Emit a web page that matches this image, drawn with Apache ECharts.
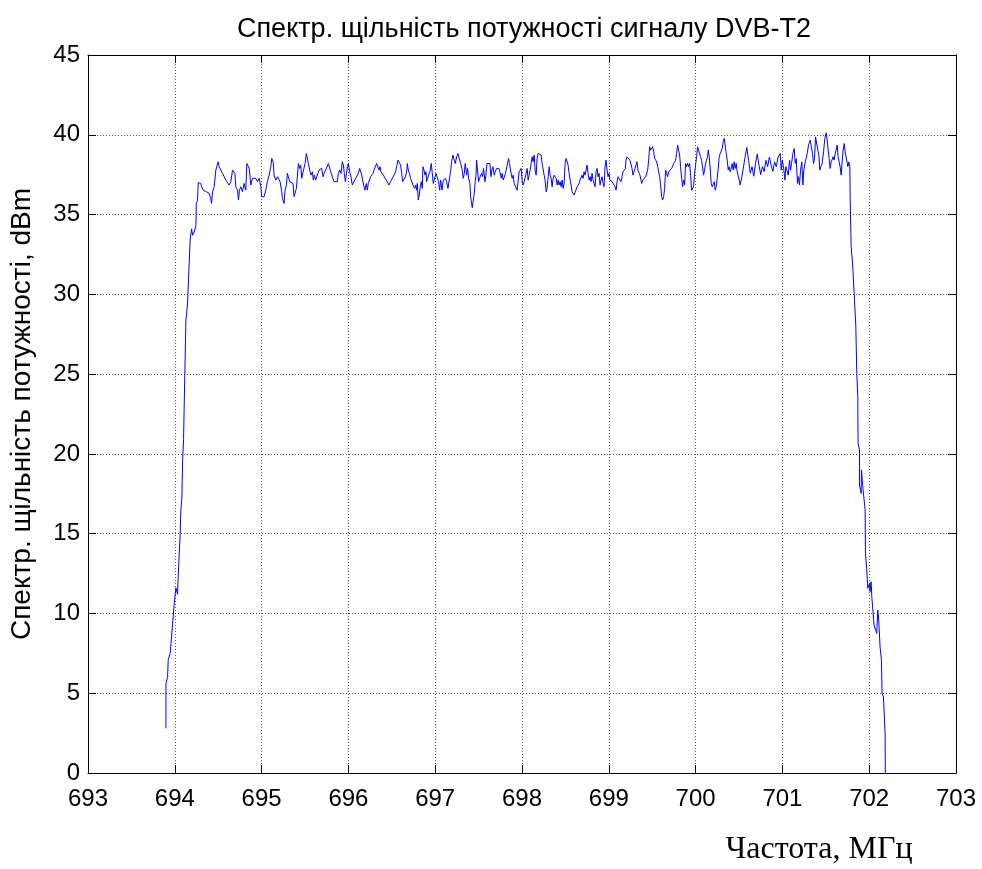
<!DOCTYPE html>
<html>
<head>
<meta charset="utf-8">
<script src="https://cdn.jsdelivr.net/npm/echarts@6/dist/echarts.min.js"></script>
<style>
  html, body { margin: 0; padding: 0; background: #fff; }
  #chart { width: 982px; height: 869px; }
</style>
</head>
<body>
<div id="chart"></div>
<script>
// Measured power spectral density of a DVB-T2 channel, [MHz, dBm]
const riseEdge = [
  [693.898, 2.8], [693.898, 5.6], [693.917, 6.0], [693.924, 7.1], [693.944, 7.0],
  [693.947, 7.5], [693.967, 7.5], [693.993, 10.6], [694.013, 11.6], [694.032, 11.2],
  [694.039, 12.3], [694.062, 15.0], [694.070, 16.5], [694.082, 17.3], [694.090, 19.6],
  [694.101, 20.9], [694.108, 23.0], [694.128, 28.4], [694.147, 29.4], [694.159, 31.1],
  [694.177, 33.4], [694.193, 34.1], [694.205, 33.7], [694.223, 33.9], [694.243, 34.3],
  [694.248, 35.7], [694.262, 35.9], [694.270, 37.0], [694.285, 37.0], [694.300, 36.95]
];

const passBand = [
  [694.308, 36.74], [694.331, 36.50], [694.358, 36.45], [694.377, 36.53], [694.396, 36.33],
  [694.415, 36.00], [694.423, 35.70], [694.435, 36.43], [694.454, 36.74], [694.473, 37.79],
  [694.492, 37.79], [694.500, 38.31], [694.511, 38.00], [694.530, 37.89], [694.550, 37.58],
  [694.569, 37.37], [694.588, 37.16], [694.607, 37.06], [694.626, 36.85], [694.646, 37.06],
  [694.665, 37.79], [694.676, 37.89], [694.692, 37.58], [694.703, 36.74], [694.722, 36.53],
  [694.734, 35.91], [694.745, 36.53], [694.761, 36.74], [694.780, 36.43], [694.799, 36.95],
  [694.818, 36.53], [694.830, 38.20], [694.845, 38.10], [694.857, 37.89], [694.876, 36.85],
  [694.895, 37.27], [694.914, 37.37], [694.933, 37.27], [694.952, 37.06], [694.972, 37.27],
  [694.991, 36.74], [695.002, 36.12], [695.029, 36.12], [695.048, 36.53], [695.067, 37.06],
  [695.087, 37.47], [695.106, 38.00], [695.117, 38.52], [695.133, 38.31], [695.144, 37.47],
  [695.163, 37.16], [695.183, 37.37], [695.202, 37.47], [695.213, 37.06], [695.221, 36.95],
  [695.232, 36.43], [695.240, 36.01], [695.251, 35.91], [695.259, 35.70], [695.270, 36.53],
  [695.286, 36.85], [695.297, 37.58], [695.309, 37.47], [695.324, 37.06], [695.336, 37.16],
  [695.347, 36.95], [695.362, 36.95], [695.374, 36.12], [695.385, 36.22], [695.401, 36.64],
  [695.412, 36.74], [695.424, 38.20], [695.439, 37.89], [695.451, 38.10], [695.462, 37.27],
  [695.478, 37.68], [695.501, 38.20], [695.516, 38.83], [695.531, 38.83], [695.539, 38.20],
  [695.554, 37.79], [695.570, 37.47], [695.585, 37.68], [695.596, 37.16], [695.608, 37.47],
  [695.623, 37.16], [695.635, 37.37], [695.650, 37.27], [695.662, 37.79], [695.681, 37.68],
  [695.692, 37.89], [695.708, 37.37], [695.719, 37.58], [695.738, 37.79], [695.758, 37.89],
  [695.769, 38.20], [695.784, 38.10], [695.796, 37.68], [695.815, 37.58], [695.834, 37.06],
  [695.853, 37.16], [695.873, 37.06], [695.884, 37.58], [695.900, 37.79], [695.915, 37.58],
  [695.930, 38.31], [695.942, 38.10], [695.953, 37.58], [695.965, 37.06], [695.976, 37.16],
  [695.988, 38.00], [695.999, 38.20], [696.015, 37.68], [696.030, 37.37], [696.045, 36.85],
  [696.057, 36.95], [696.068, 36.85], [696.084, 37.27], [696.099, 37.16], [696.114, 37.58],
  [696.130, 37.89], [696.141, 37.79], [696.153, 37.47], [696.168, 37.37], [696.180, 36.74],
  [696.191, 36.53], [696.206, 36.95], [696.218, 36.53], [696.229, 36.95], [696.245, 37.06],
  [696.256, 37.37], [696.268, 37.27], [696.283, 37.58], [696.295, 37.79], [696.314, 37.89],
  [696.325, 38.20], [696.337, 38.10], [696.352, 37.79], [696.364, 38.00], [696.375, 37.68],
  [696.391, 37.79], [696.402, 37.47], [696.421, 37.37], [696.437, 37.16], [696.452, 37.06],
  [696.467, 36.85], [696.486, 37.06], [696.506, 37.16], [696.525, 37.47], [696.544, 37.68],
  [696.556, 38.00], [696.571, 38.41], [696.591, 38.41], [696.602, 38.10], [696.614, 37.58],
  [696.625, 37.06], [696.640, 37.16], [696.656, 37.37], [696.671, 37.68], [696.679, 38.20],
  [696.690, 37.79], [696.702, 37.58], [696.717, 37.27], [696.733, 37.16], [696.744, 36.85],
  [696.756, 36.95], [696.763, 36.64], [696.775, 36.85], [696.786, 36.53], [696.794, 36.95],
  [696.805, 35.91], [696.817, 36.22], [696.828, 36.74], [696.840, 37.06], [696.851, 36.64],
  [696.859, 38.00], [696.871, 37.79], [696.882, 37.47], [696.894, 37.68], [696.901, 37.06],
  [696.913, 37.27], [696.924, 37.47], [696.940, 37.68], [696.955, 38.20], [696.967, 38.10],
  [696.978, 36.95], [696.993, 36.85], [697.009, 37.58], [697.024, 37.47], [697.039, 37.06],
  [697.051, 36.53], [697.062, 37.16], [697.078, 36.53], [697.093, 37.16], [697.105, 37.06],
  [697.120, 37.27], [697.131, 37.06], [697.147, 36.64], [697.162, 37.16], [697.177, 37.68],
  [697.189, 38.31], [697.204, 38.73], [697.220, 38.41], [697.231, 38.20], [697.247, 38.62],
  [697.262, 38.83], [697.277, 38.52], [697.293, 38.20], [697.308, 37.89], [697.323, 37.27],
  [697.335, 37.58], [697.346, 38.20], [697.362, 37.47], [697.373, 37.89], [697.385, 37.27],
  [697.400, 36.95], [697.408, 36.12], [697.419, 35.70], [697.427, 35.43], [697.438, 35.43],
  [697.450, 36.33], [697.461, 37.06], [697.469, 37.37], [697.477, 38.41], [697.488, 38.41],
  [697.500, 37.06], [697.511, 37.27], [697.523, 37.16], [697.534, 37.58], [697.546, 37.37],
  [697.557, 37.89], [697.573, 37.06], [697.584, 37.47], [697.596, 38.20], [697.607, 38.31],
  [697.619, 38.10], [697.630, 38.20], [697.642, 37.37], [697.653, 37.79], [697.665, 38.00],
  [697.680, 37.47], [697.691, 37.68], [697.707, 37.89], [697.722, 37.79], [697.734, 37.89],
  [697.745, 37.68], [697.761, 37.27], [697.772, 37.58], [697.784, 37.16], [697.799, 37.06],
  [697.810, 37.58], [697.822, 37.68], [697.833, 37.58], [697.845, 38.52], [697.856, 38.20],
  [697.868, 37.79], [697.875, 37.58], [697.887, 37.27], [697.898, 37.47], [697.910, 36.95],
  [697.921, 36.85], [697.933, 37.06], [697.944, 36.53], [697.956, 36.43], [697.967, 37.68],
  [697.979, 37.79], [697.990, 37.89], [698.002, 37.06], [698.013, 36.85], [698.025, 37.06],
  [698.036, 36.95], [698.048, 37.58], [698.059, 37.89], [698.071, 37.16], [698.082, 37.47],
  [698.094, 37.79], [698.105, 38.20], [698.117, 38.62], [698.128, 38.31], [698.140, 38.73],
  [698.151, 37.79], [698.163, 37.47], [698.174, 38.52], [698.186, 38.83], [698.197, 38.94],
  [698.209, 38.94], [698.220, 38.73], [698.232, 38.20], [698.243, 38.31], [698.255, 37.47],
  [698.266, 37.16], [698.278, 36.43], [698.289, 36.64], [698.301, 37.37], [698.313, 37.99],
  [698.324, 37.47], [698.336, 37.27], [698.347, 36.74], [698.359, 37.27], [698.370, 37.47],
  [698.382, 37.58], [698.393, 37.27], [698.405, 36.85], [698.416, 37.16], [698.428, 36.85],
  [698.439, 37.06], [698.451, 36.74], [698.462, 37.16], [698.474, 36.64], [698.485, 36.95],
  [698.497, 38.20], [698.508, 38.52], [698.520, 38.41], [698.531, 38.10], [698.543, 37.58],
  [698.554, 37.16], [698.566, 36.85], [698.577, 36.43], [698.589, 36.33], [698.600, 36.22],
  [698.612, 36.12], [698.623, 36.33], [698.635, 36.74], [698.646, 36.64], [698.658, 36.95],
  [698.669, 37.16], [698.681, 37.27], [698.692, 37.47], [698.704, 37.27], [698.715, 37.68],
  [698.727, 37.47], [698.738, 37.79], [698.750, 38.10], [698.761, 37.58], [698.773, 37.16],
  [698.784, 37.37], [698.796, 37.06], [698.807, 37.58], [698.819, 37.16], [698.830, 37.27],
  [698.842, 36.74], [698.853, 37.68], [698.865, 37.89], [698.876, 37.37], [698.888, 37.58],
  [698.899, 36.85], [698.911, 37.16], [698.922, 37.37], [698.934, 36.95], [698.945, 36.74],
  [698.957, 38.00], [698.968, 38.41], [698.980, 37.79], [698.991, 37.37], [699.003, 37.58],
  [699.014, 37.16], [699.026, 37.27], [699.038, 37.06], [699.049, 36.95], [699.061, 37.16],
  [699.072, 36.74], [699.084, 36.53], [699.095, 37.06], [699.107, 37.37], [699.118, 37.27],
  [699.130, 37.47], [699.141, 37.06], [699.153, 37.37], [699.164, 37.68], [699.176, 37.79],
  [699.191, 37.89], [699.198, 38.41], [699.210, 38.62], [699.221, 38.73], [699.233, 38.73],
  [699.244, 38.41], [699.256, 38.31], [699.267, 37.89], [699.279, 37.47], [699.290, 37.68],
  [699.302, 37.89], [699.313, 38.10], [699.325, 38.31], [699.336, 37.79], [699.348, 37.89],
  [699.359, 37.47], [699.371, 37.58], [699.379, 36.95], [699.390, 37.16], [699.402, 37.06],
  [699.413, 37.27], [699.425, 37.37], [699.436, 37.47], [699.448, 37.79], [699.459, 38.41],
  [699.471, 39.25], [699.482, 39.04], [699.494, 39.14], [699.505, 39.25], [699.517, 38.94],
  [699.528, 38.52], [699.540, 38.52], [699.551, 38.31], [699.563, 38.00], [699.574, 37.89],
  [699.586, 37.37], [699.597, 36.85], [699.609, 36.12], [699.620, 35.91], [699.632, 36.12],
  [699.643, 36.64], [699.655, 37.79], [699.666, 37.58], [699.678, 37.37], [699.689, 37.68],
  [699.701, 37.79], [699.712, 37.79], [699.724, 37.89], [699.735, 38.00], [699.747, 38.20],
  [699.758, 38.31], [699.770, 38.41], [699.781, 38.83], [699.793, 39.35], [699.804, 39.04],
  [699.816, 38.73], [699.827, 38.00], [699.839, 37.27], [699.850, 36.74], [699.862, 37.16],
  [699.873, 36.85], [699.885, 38.20], [699.896, 38.00], [699.908, 38.20], [699.919, 38.00],
  [699.931, 38.20], [699.942, 37.47], [699.954, 36.53], [699.965, 36.53], [699.977, 36.74],
  [699.988, 37.58], [700.000, 38.10], [700.011, 38.62], [700.023, 39.25], [700.034, 39.04],
  [700.046, 38.94], [700.057, 38.62], [700.069, 38.41], [700.080, 38.00], [700.092, 37.47],
  [700.103, 37.79], [700.115, 38.20], [700.126, 38.41], [700.138, 38.62], [700.146, 39.04],
  [700.157, 38.62], [700.169, 37.79], [700.180, 36.95], [700.192, 36.74], [700.203, 36.64],
  [700.215, 37.06], [700.226, 36.53], [700.238, 36.74], [700.249, 37.27], [700.261, 37.89],
  [700.272, 38.62], [700.284, 38.83], [700.295, 38.94], [700.307, 39.14], [700.318, 39.56],
  [700.330, 39.77], [700.341, 39.35], [700.353, 38.83], [700.364, 38.41], [700.376, 37.79],
  [700.387, 38.00], [700.399, 37.68], [700.410, 37.89], [700.422, 38.20], [700.433, 37.79],
  [700.445, 38.31], [700.456, 37.89], [700.468, 38.20], [700.479, 37.68], [700.491, 37.79],
  [700.502, 37.16], [700.514, 36.85], [700.530, 37.30], [700.550, 37.90], [700.570, 38.60],
  [700.590, 39.20], [700.610, 38.40], [700.630, 37.60], [700.650, 38.00], [700.670, 37.40],
  [700.690, 38.20], [700.710, 38.80], [700.730, 38.10], [700.750, 37.50], [700.770, 38.00],
  [700.790, 37.70], [700.810, 38.40], [700.830, 38.00], [700.850, 38.60], [700.870, 38.10],
  [700.890, 37.70], [700.910, 38.30], [700.930, 38.00], [700.950, 38.60], [700.975, 38.83],
  [700.987, 37.78], [700.998, 38.41], [701.013, 38.00], [701.029, 37.16], [701.040, 38.00],
  [701.052, 37.78], [701.067, 37.47], [701.082, 38.41], [701.094, 37.78], [701.105, 38.20],
  [701.121, 38.83], [701.136, 39.14], [701.148, 38.20], [701.159, 38.50], [701.174, 36.95],
  [701.186, 37.37], [701.197, 36.85], [701.209, 37.78], [701.224, 38.30], [701.236, 36.85],
  [701.247, 37.78], [701.263, 38.30], [701.274, 38.20], [701.286, 38.83], [701.301, 39.35],
  [701.320, 39.66], [701.336, 39.77], [701.347, 38.83], [701.359, 38.20], [701.370, 38.50],
  [701.382, 39.87], [701.397, 39.77], [701.408, 39.04], [701.420, 38.73], [701.431, 37.78],
  [701.443, 38.00], [701.458, 38.20], [701.474, 38.94], [701.489, 39.77], [701.504, 40.12],
  [701.516, 39.66], [701.527, 39.04], [701.539, 38.50], [701.550, 37.89], [701.562, 38.30],
  [701.573, 38.20], [701.585, 38.62], [701.596, 38.41], [701.608, 38.83], [701.619, 39.04],
  [701.631, 39.35], [701.642, 38.62], [701.654, 38.30], [701.665, 38.00], [701.677, 37.47],
  [701.688, 38.30], [701.700, 39.04], [701.712, 39.45], [701.723, 38.94], [701.735, 39.04],
  [701.742, 38.94], [701.754, 38.00], [701.765, 38.30], [701.777, 38.00]
];

const fallEdge = [
  [701.781, 35.90], [701.792, 33.00], [701.811, 31.72], [701.827, 30.06], [701.846, 27.97],
  [701.857, 25.04], [701.869, 23.58], [701.869, 22.60], [701.872, 20.66], [701.888, 20.24],
  [701.888, 18.05], [701.907, 17.52], [701.911, 19.00], [701.926, 17.94], [701.953, 16.48],
  [701.957, 13.76], [701.972, 12.72], [701.984, 11.57], [702.003, 11.88], [702.010, 11.36],
  [702.022, 11.99], [702.030, 11.05], [702.049, 11.05], [702.056, 9.27], [702.076, 9.17],
  [702.087, 8.75], [702.099, 10.21], [702.110, 9.59], [702.125, 7.92], [702.141, 7.08],
  [702.148, 4.99], [702.164, 4.78], [702.183, 2.49], [702.187, -1.0]
];

const spectrum = riseEdge.concat(passBand, fallEdge);

const titleText = 'Спектр. щільність потужності сигналу DVB-T2';
const yAxisTitle = 'Спектр. щільність потужності, dBm';
const xAxisTitle = 'Частота, МГц';

const chart = echarts.init(document.getElementById('chart'), null, { renderer: 'canvas' });

const sans = '"Liberation Sans", Arial, Helvetica, sans-serif';
const frameAxis = {
  axisLine: { show: true, onZero: false, lineStyle: { color: '#000', width: 1 } },
  axisTick: { show: true, inside: true, length: 8, lineStyle: { color: '#000', width: 1 } },
  axisLabel: { show: false },
  splitLine: { show: false }
};

chart.setOption({
  animation: false,
  backgroundColor: '#fff',
  title: {
    text: titleText,
    left: 519,
    top: 11,
    textAlign: 'center',
    textStyle: { fontFamily: sans, fontSize: 27, fontWeight: 'normal', color: '#000' }
  },
  grid: { left: 87, right: 26, top: 55, bottom: 96, containLabel: false },
  xAxis: [
    {
      type: 'value', min: 693, max: 703, interval: 1, position: 'bottom',
      axisLine: { show: true, onZero: false, lineStyle: { color: '#000', width: 1 } },
      axisTick: { show: true, inside: true, length: 8, lineStyle: { color: '#000' } },
      axisLabel: { margin: 14, fontFamily: sans, fontSize: 24, color: '#000' },
      splitLine: { show: true, lineStyle: { color: '#555', type: [1, 2], width: 1 } }
    },
    Object.assign({ type: 'value', min: 693, max: 703, interval: 1, position: 'top' }, frameAxis)
  ],
  yAxis: [
    {
      type: 'value', min: 0, max: 45, interval: 5, position: 'left',
      name: yAxisTitle, nameLocation: 'middle', nameRotate: 90, nameGap: 52,
      nameTextStyle: { fontFamily: sans, fontSize: 28, color: '#000' },
      axisLine: { show: true, onZero: false, lineStyle: { color: '#000', width: 1 } },
      axisTick: { show: true, inside: true, length: 8, lineStyle: { color: '#000' } },
      axisLabel: { margin: 8, fontFamily: sans, fontSize: 24, color: '#000' },
      splitLine: { show: true, lineStyle: { color: '#555', type: [1, 2], width: 1 } }
    },
    Object.assign({ type: 'value', min: 0, max: 45, interval: 5, position: 'right' }, frameAxis)
  ],
  graphic: [
    {
      type: 'text', x: 819, y: 850,
      style: {
        text: xAxisTitle, fill: '#000',
        font: '32px "Liberation Serif", "Times New Roman", serif',
        textAlign: 'center', textVerticalAlign: 'middle'
      }
    }
  ],
  series: [
    {
      type: 'line',
      data: spectrum,
      showSymbol: false,
      symbol: 'none',
      clip: true,
      lineStyle: { color: '#0000ff', width: 1 },
      emphasis: { disabled: true }
    }
  ]
});
</script>
</body>
</html>
